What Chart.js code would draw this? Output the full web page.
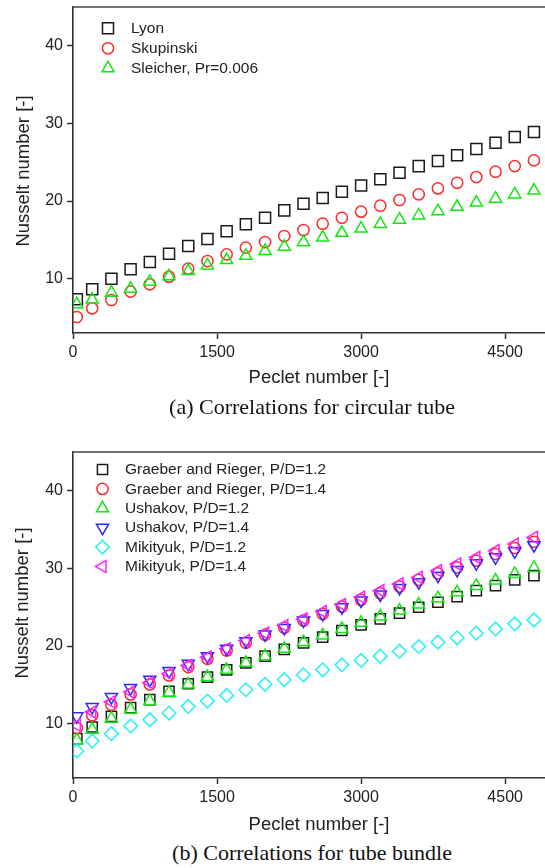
<!DOCTYPE html>
<html>
<head>
<meta charset="utf-8">
<script src="https://cdn.jsdelivr.net/npm/chart.js@4.4.1/dist/chart.umd.min.js"></script>
<style>
html,body{margin:0;padding:0;background:#fff;overflow:hidden;}
#wrap{position:relative;width:545px;height:868px;overflow:hidden;background:#fff;}
canvas.pane{position:absolute;left:0;}
.cap{position:absolute;left:112px;width:400px;text-align:center;white-space:nowrap;font-family:"Liberation Serif","Times New Roman",serif;font-size:22px;color:#111;line-height:26px;}
</style>
</head>
<body>
<div id="wrap">
  <canvas id="chartA" class="pane" width="545" height="395" style="top:0px"></canvas>
  <div class="cap" style="top:394px">(a) Correlations for circular tube</div>
  <canvas id="chartB" class="pane" width="545" height="395" style="top:445px"></canvas>
  <div class="cap" style="top:840px">(b) Correlations for tube bundle</div>
</div>
<script>
// ---- data ----
const peclet = [40, 200, 400, 600, 800, 1000, 1200, 1400, 1600, 1800, 2000, 2200, 2400,
                2600, 2800, 3000, 3200, 3400, 3600, 3800, 4000, 4200, 4400, 4600, 4800];

// (a) circular tube
const lyon      = [7.34, 8.63, 10.0, 11.2, 12.15, 13.2, 14.2, 15.1, 16.1, 17.0, 17.85, 18.8, 19.65,
                   20.4, 21.2, 22.0, 22.8, 23.65, 24.5, 25.15, 25.9, 26.7, 27.5, 28.25, 28.9];
const skupinski = [5.06, 6.18, 7.25, 8.33, 9.27, 10.26, 11.29, 12.27, 13.13, 14.0, 14.72, 15.49, 16.27,
                   17.08, 17.85, 18.63, 19.4, 20.13, 20.86, 21.63, 22.36, 23.09, 23.78, 24.5, 25.24];
const sleicher  = [6.7, 7.3, 8.2, 8.7, 9.6, 10.3, 11.0, 11.7, 12.4, 12.95, 13.55, 14.12, 14.7,
                   15.3, 15.9, 16.45, 17.05, 17.6, 18.15, 18.7, 19.25, 19.8, 20.3, 20.85, 21.35];

// (b) tube bundle
const graeber12  = [8.07, 9.57, 10.94, 12.06, 13.09, 14.16, 15.14, 16.0, 16.94, 17.84, 18.7, 19.56, 20.42,
                    21.14, 22.0, 22.73, 23.5, 24.23, 25.0, 25.64, 26.37, 27.14, 27.79, 28.52, 29.07];
const graeber14  = [9.44, 11.07, 12.44, 13.77, 15.06, 16.21, 17.29, 18.36, 19.43, 20.42, 21.44, 22.34, 23.29,
                    24.14, 25.09, 25.94, 26.8, 27.66, 28.52, 29.37, 30.14, 31.0, 31.86, 32.63, 33.44];
const ushakov12  = [7.86, 9.23, 10.64, 11.8, 12.91, 13.99, 15.06, 16.0, 16.94, 17.84, 18.7, 19.64, 20.5,
                    21.36, 22.2, 22.99, 23.8, 24.57, 25.34, 26.16, 26.93, 27.75, 28.43, 29.29, 30.06];
const ushakov14  = [10.94, 12.14, 13.43, 14.59, 15.66, 16.77, 17.71, 18.7, 19.64, 20.63, 21.49, 22.34, 23.29,
                    24.14, 25.0, 25.86, 26.63, 27.49, 28.22, 29.07, 29.8, 30.66, 31.43, 32.2, 33.0];
const mikityuk12 = [6.49, 7.77, 8.71, 9.7, 10.51, 11.37, 12.23, 12.91, 13.64, 14.37, 15.06, 15.66, 16.3,
                    16.94, 17.59, 18.14, 18.7, 19.34, 19.94, 20.5, 21.06, 21.66, 22.2, 22.86, 23.37];
const mikityuk14 = [9.8, 11.5, 12.79, 14.07, 15.27, 16.43, 17.5, 18.57, 19.64, 20.71, 21.66, 22.64, 23.5,
                    24.44, 25.34, 26.29, 27.14, 28.0, 28.86, 29.72, 30.57, 31.43, 32.29, 33.14, 34.0];

const xTicks = [0, 1500, 3000, 4500];
const yTicks = [10, 20, 30, 40];
const labelsA = ['Lyon', 'Skupinski', 'Sleicher, Pr=0.006'];
const labelsB = ['Graeber and Rieger, P/D=1.2', 'Graeber and Rieger, P/D=1.4', 'Ushakov, P/D=1.2',
                 'Ushakov, P/D=1.4', 'Mikityuk, P/D=1.2', 'Mikityuk, P/D=1.4'];
const xTitle = 'Peclet number [-]';
const yTitle = 'Nusselt number [-]';

// ---- styling ----
const SANS = '"Liberation Sans", Arial, Helvetica, sans-serif';
const C_BLACK = '#1a1a1a', C_RED = '#ff2a2a', C_GREEN = '#14e614', C_BLUE = '#2a2aff',
      C_CYAN = '#22f2f2', C_MAG = '#ff22ff';

const seriesA = [
  {label: labelsA[0], values: lyon,      color: C_BLACK, style: 'rect',     r: 7.8, rot: 0},
  {label: labelsA[1], values: skupinski, color: C_RED,   style: 'circle',   r: 5.6, rot: 0},
  {label: labelsA[2], values: sleicher,  color: C_GREEN, style: 'triangle', r: 7,   rot: 0}
];
const seriesB = [
  {label: labelsB[0], values: graeber12,  color: C_BLACK, style: 'rect',     r: 7.2, rot: 0},
  {label: labelsB[1], values: graeber14,  color: C_RED,   style: 'circle',   r: 5.6, rot: 0},
  {label: labelsB[2], values: ushakov12,  color: C_GREEN, style: 'triangle', r: 7,   rot: 0},
  {label: labelsB[3], values: ushakov14,  color: C_BLUE,  style: 'triangle', r: 7,   rot: 180},
  {label: labelsB[4], values: mikityuk12, color: C_CYAN,  style: 'rectRot',  r: 6.8, rot: 0},
  {label: labelsB[5], values: mikityuk14, color: C_MAG,   style: 'triangle', r: 7,   rot: -90}
];

function drawMarker(ctx, s, x, y) {
  ctx.save();
  ctx.strokeStyle = s.color;
  ctx.fillStyle = 'rgba(0,0,0,0)';
  ctx.lineWidth = 1.5;
  if (Chart.helpers && Chart.helpers.drawPoint) {
    Chart.helpers.drawPoint(ctx, {pointStyle: s.style, radius: s.r, rotation: s.rot, borderWidth: 1.5}, x, y);
  }
  ctx.restore();
}

function decorPlugin(cfg) {
  return {
    id: 'decor',
    afterDraw(chart) {
      const ctx = chart.ctx, a = chart.chartArea;
      ctx.save();
      // top frame line
      ctx.strokeStyle = '#444';
      ctx.lineWidth = 1.6;
      ctx.beginPath();
      ctx.moveTo(a.left - 0.8, a.top);
      ctx.lineTo(chart.width, a.top);
      ctx.stroke();
      // axis titles
      ctx.fillStyle = '#222';
      ctx.font = '18.5px ' + SANS;
      ctx.textAlign = 'center';
      ctx.textBaseline = 'middle';
      ctx.fillText(xTitle, cfg.xTitleX, cfg.xTitleY);
      ctx.save();
      ctx.translate(cfg.yTitleX, cfg.yTitleY);
      ctx.rotate(-Math.PI / 2);
      ctx.fillText(yTitle, 0, 0);
      ctx.restore();
      // legend
      ctx.font = '15.5px ' + SANS;
      ctx.textAlign = 'left';
      cfg.series.forEach((s, i) => {
        const y = cfg.legY0 + i * cfg.legDy;
        drawMarker(ctx, s, cfg.legSymX, y);
        ctx.fillStyle = '#222';
        ctx.fillText(s.label, cfg.legTextX, y + 0.5);
      });
      ctx.restore();
    }
  };
}

function makeChart(id, series, cfg) {
  const n = series.length;
  const datasets = series.map((s, i) => ({
    label: s.label,
    data: peclet.map((p, j) => ({x: p, y: s.values[j]})),
    showLine: false,
    pointStyle: s.style,
    pointRadius: s.r,
    pointHoverRadius: s.r,
    pointRotation: s.rot,
    pointBorderColor: s.color,
    pointBackgroundColor: 'rgba(0,0,0,0)',
    borderColor: s.color,
    backgroundColor: 'rgba(0,0,0,0)',
    pointBorderWidth: 1.5,
    order: n - i
  }));
  const axisCommon = {
    grid: {drawOnChartArea: false, drawTicks: true, tickLength: 6, tickColor: '#333', tickWidth: 1.5},
    border: {display: true, color: '#333', width: 1.6}
  };
  return new Chart(document.getElementById(id), {
    type: 'scatter',
    data: {datasets},
    options: {
      responsive: false,
      animation: false,
      events: [],
      layout: {autoPadding: false, padding: {top: 7, right: 0, left: 0, bottom: 0}},
      plugins: {legend: {display: false}, tooltip: {enabled: false}},
      scales: {
        x: Object.assign({
          type: 'linear', min: 0, max: 4915,
          afterBuildTicks: sc => { sc.ticks = xTicks.map(v => ({value: v})); },
          afterFit: sc => { sc.height = 62; sc.paddingLeft = 0; sc.paddingRight = 0; },
          ticks: {autoSkip: false, maxRotation: 0, padding: 4, color: '#222', font: {family: SANS, size: 16},
                  callback: v => String(v)}
        }, axisCommon),
        y: Object.assign({
          type: 'linear', min: 3, max: 45,
          afterBuildTicks: sc => { sc.ticks = yTicks.map(v => ({value: v})); },
          afterFit: sc => { sc.width = 73; sc.paddingTop = 0; sc.paddingBottom = 0; },
          ticks: {autoSkip: false, padding: 4, color: '#222', font: {family: SANS, size: 16},
                  callback: v => String(v)}
        }, axisCommon)
      }
    },
    plugins: [decorPlugin(cfg)]
  });
}

makeChart('chartA', seriesA, {
  series: seriesA, xTitleX: 319, xTitleY: 378, yTitleX: 24, yTitleY: 171,
  legSymX: 108, legTextX: 131, legY0: 28.3, legDy: 20
});
makeChart('chartB', seriesB, {
  series: seriesB, xTitleX: 319, xTitleY: 380, yTitleX: 23, yTitleY: 158,
  legSymX: 102.5, legTextX: 125, legY0: 24.5, legDy: 19.4
});
</script>
</body>
</html>
